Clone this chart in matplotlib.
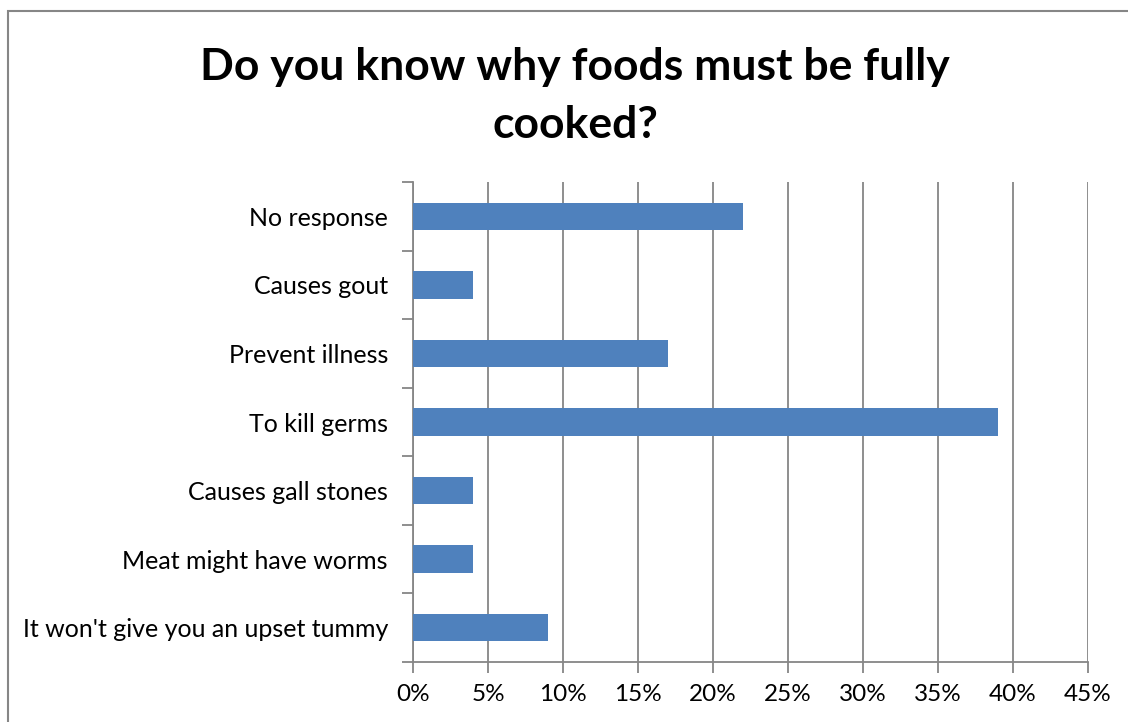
import matplotlib.pyplot as plt
from matplotlib.patches import Rectangle
from matplotlib.ticker import MultipleLocator, PercentFormatter

plt.rcParams['font.family'] = ['Lato', 'DejaVu Sans']

categories = ['No response', 'Causes gout', 'Prevent illness', 'To kill germs',
              'Causes gall stones', 'Meat might have worms',
              "It won't give you an upset tummy"]
values = [22, 4, 17, 39, 4, 4, 9]

W, H = 1128, 722
fig = plt.figure(figsize=(W / 100, H / 100), dpi=100)
ax = fig.add_axes([413 / W, 1 - 662 / H, (1088 - 413) / W, (662 - 182) / H])

# outer chart border
fig.patches.append(Rectangle((8 / W, -0.5), 1.2, 1.5 - 11 / H, transform=fig.transFigure,
                             fill=False, edgecolor='#868686', linewidth=1.5))

grey = '#868686'
n = len(categories)
pos = list(range(n))[::-1]
ax.barh(pos, values, height=0.4, color='#4F81BD', zorder=3)

ax.set_xlim(0, 45)
ax.set_ylim(-0.5, n - 0.5)
ax.xaxis.set_major_locator(MultipleLocator(5))
ax.xaxis.set_major_formatter(PercentFormatter(decimals=0))
ax.grid(axis='x', color=grey, linewidth=1.3, zorder=0)

ax.set_yticks(pos)
ax.set_yticklabels(categories)
ax.set_yticks([i - 0.5 for i in range(n + 1)], minor=True)
ax.tick_params(axis='y', which='major', length=0, pad=18, labelsize=18)
ax.tick_params(axis='y', which='minor', length=8, width=1.3, color=grey)
ax.tick_params(axis='x', length=8, width=1.3, color=grey, labelsize=17.5, pad=8)

for s in ['top', 'right']:
    ax.spines[s].set_visible(False)
for s in ['left', 'bottom']:
    ax.spines[s].set_color(grey)
    ax.spines[s].set_linewidth(1.3)

fig.text(575 / W, 1 - 96 / H, 'Do you know why foods must be fully\ncooked?',
         ha='center', va='center', fontsize=32, fontweight='bold',
         linespacing=1.55)

fig.savefig('out.png', dpi=100)
